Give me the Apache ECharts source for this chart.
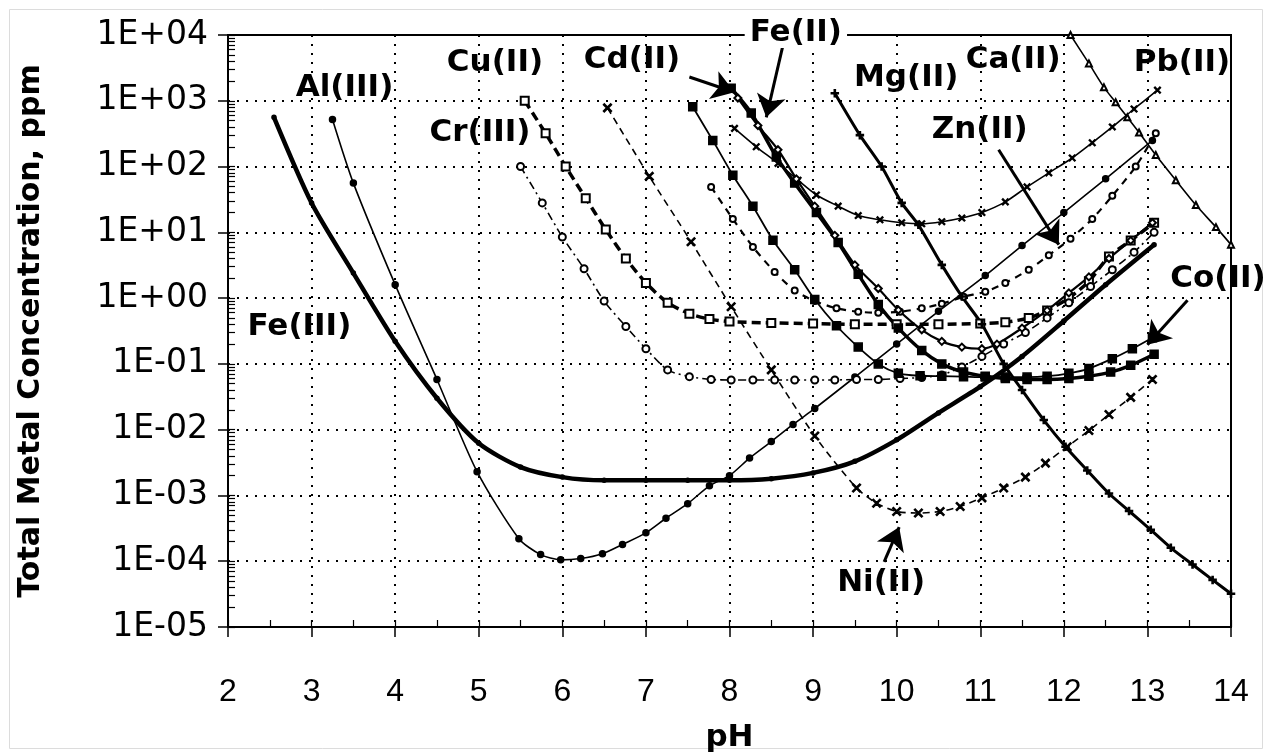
<!DOCTYPE html>
<html>
<head>
<meta charset="utf-8">
<title>Total Metal Concentration vs pH</title>
<script src="https://cdn.jsdelivr.net/npm/echarts@6/dist/echarts.min.js"></script>
<style>
html, body { margin: 0; padding: 0; background: #fff; }
#chart { width: 1267px; height: 752px; }
</style>
</head>
<body>
<div id="chart"></div>
<script>
// solubility curves, pH vs total metal concentration (ppm)
var feIIIPh = [2.55, 3.0, 3.5, 4.0, 4.5, 5.0, 5.5, 6.0, 6.5, 7.0, 7.5, 8.0, 8.5, 9.0, 9.5, 10.0, 10.5, 11.0, 11.5, 12.0, 12.5, 13.08]
var feIIIConc = [560, 28, 2.4, 0.22, 0.03, 0.0062, 0.0027, 0.0019, 0.0017, 0.0017, 0.0017, 0.0017, 0.0018, 0.0022, 0.0033, 0.007, 0.018, 0.045, 0.13, 0.45, 1.6, 6.5]

var alPh = [3.25, 3.5, 4.0, 4.5, 4.98, 5.48, 5.74, 5.98, 6.22, 6.48, 6.72, 7.0, 7.24, 7.5, 7.76, 8.0, 8.24, 8.5, 8.76, 9.02, 9.5, 10.0, 10.5, 11.06, 11.5, 12.0, 12.5, 13.06]
var alConc = [520, 56, 1.6, 0.058, 0.0023, 2.2e-4, 1.26e-4, 1.05e-4, 1.1e-4, 1.3e-4, 1.8e-4, 2.7e-4, 4.5e-4, 7.5e-4, 1.4e-3, 2.0e-3, 3.7e-3, 6.6e-3, 0.012, 0.021, 0.063, 0.2, 0.63, 2.2, 6.3, 20, 65, 250]

var cuPh = [5.55, 5.8, 6.04, 6.28, 6.52, 6.76, 7.0, 7.26, 7.52, 7.76, 8.0, 8.5, 9.0, 9.5, 10.0, 10.5, 11.0, 11.3, 11.58, 11.8, 12.06, 12.3, 12.54, 12.8, 13.08]
var cuConc = [1000, 320, 100, 33, 11, 4, 1.7, 0.85, 0.58, 0.48, 0.44, 0.42, 0.41, 0.4, 0.4, 0.4, 0.41, 0.43, 0.5, 0.65, 1.0, 1.8, 4.3, 7.5, 14]

var crPh = [5.5, 5.76, 6.0, 6.26, 6.5, 6.76, 7.0, 7.26, 7.52, 7.78, 8.02, 8.28, 8.54, 8.78, 9.02, 9.26, 9.52, 9.78, 10.04, 10.3, 10.54, 10.78, 11.02, 11.28, 11.54, 11.8, 12.06, 12.32, 12.58, 12.84, 13.08]
var crConc = [100, 28, 8.5, 2.8, 0.9, 0.37, 0.17, 0.081, 0.064, 0.058, 0.057, 0.057, 0.057, 0.057, 0.057, 0.057, 0.058, 0.058, 0.06, 0.062, 0.068, 0.09, 0.13, 0.2, 0.3, 0.5, 0.85, 1.5, 2.7, 5, 10]

var znPh = [7.78, 8.04, 8.28, 8.54, 8.78, 9.02, 9.28, 9.54, 9.78, 10.04, 10.3, 10.54, 10.8, 11.06, 11.3, 11.58, 11.82, 12.08, 12.34, 12.58, 12.86, 13.1]
var znConc = [49, 16, 6, 2.5, 1.3, 0.9, 0.7, 0.62, 0.6, 0.62, 0.7, 0.82, 1.05, 1.25, 1.7, 2.7, 4.5, 8, 16, 36, 100, 320]

var niPh = [6.54, 7.04, 7.54, 8.02, 8.5, 9.02, 9.52, 9.76, 10.0, 10.26, 10.52, 10.76, 11.02, 11.28, 11.54, 11.78, 12.04, 12.3, 12.54, 12.8, 13.06]
var niConc = [780, 71, 7.2, 0.74, 0.081, 0.008, 1.3e-3, 7.6e-4, 5.7e-4, 5.4e-4, 5.7e-4, 6.8e-4, 9.2e-4, 1.3e-3, 1.9e-3, 3.1e-3, 5.5e-3, 9.7e-3, 0.017, 0.031, 0.058]

var pbPh = [8.06, 8.32, 8.58, 8.82, 9.04, 9.3, 9.54, 9.8, 10.06, 10.3, 10.54, 10.78, 11.02, 11.3, 11.56, 11.82, 12.1, 12.34, 12.58, 12.84, 13.12]
var pbConc = [380, 200, 112, 62, 37, 25, 18, 15.5, 14, 13.5, 14.5, 16.5, 20, 29, 49, 80, 135, 230, 400, 750, 1450]

var caPh = [12.08, 12.3, 12.48, 12.62, 12.76, 12.9, 13.1, 13.34, 13.58, 13.82, 14.0]
var caConc = [10000, 3700, 1600, 950, 560, 330, 150, 62, 26, 12, 6.5]

var mgPh = [9.26, 9.56, 9.82, 10.06, 10.26, 10.54, 10.78, 11.02, 11.28, 11.5, 11.76, 12.02, 12.28, 12.54, 12.78, 13.04, 13.28, 13.54, 13.78, 14.0]
var mgConc = [1300, 300, 100, 28, 13, 3.2, 1.06, 0.4, 0.1, 0.04, 0.014, 0.0055, 0.0024, 0.00107, 5.8e-4, 3e-4, 1.6e-4, 8.9e-5, 5.2e-5, 3.2e-5]

var cdPh = [8.02, 8.26, 8.56, 8.78, 9.04, 9.3, 9.54, 9.78, 10.02, 10.3, 10.54, 10.8, 11.06, 11.3, 11.56, 11.8, 12.06, 12.3, 12.56, 12.8, 13.08]
var cdConc = [1550, 650, 140, 56, 20, 7, 2.3, 0.8, 0.35, 0.16, 0.1, 0.075, 0.065, 0.06, 0.058, 0.058, 0.06, 0.065, 0.075, 0.095, 0.14]

var coPh = [7.56, 7.8, 8.04, 8.28, 8.52, 8.78, 9.02, 9.28, 9.54, 9.78, 10.02, 10.28, 10.54, 10.8, 11.06, 11.3, 11.56, 11.8, 12.06, 12.3, 12.58, 12.82, 13.06]
var coConc = [810, 250, 74, 25, 7.6, 2.7, 0.95, 0.38, 0.18, 0.1, 0.072, 0.066, 0.065, 0.064, 0.063, 0.063, 0.063, 0.065, 0.072, 0.085, 0.12, 0.17, 0.25]

var feIIPh = [8.1, 8.34, 8.58, 8.8, 9.02, 9.26, 9.5, 9.78, 10.02, 10.3, 10.54, 10.78, 11.02, 11.2, 11.5, 11.8, 12.06, 12.3, 12.54, 12.8, 13.06]
var feIIConc = [1100, 420, 180, 65, 25, 9, 3.2, 1.4, 0.66, 0.33, 0.22, 0.18, 0.17, 0.2, 0.35, 0.65, 1.2, 2.1, 4, 7.5, 14]

// curve labels (placed in data coordinates)
var labelNames = ['Al(III)', 'Cu(II)', 'Cr(III)', 'Fe(III)', 'Cd(II)', 'Fe(II)', 'Mg(II)', 'Ca(II)', 'Pb(II)', 'Zn(II)', 'Co(II)', 'Ni(II)']
var labelPh = [3.4, 5.2, 5.02, 2.86, 6.84, 8.8, 10.12, 11.4, 13.42, 11.0, 13.85, 9.82]
var labelConc = [1550, 3700, 320, 0.36, 4100, 10700, 2200, 4100, 3700, 360, 1.95, 4.6e-5]

// arrows from label to curve
var arrowFromPh = [7.52, 8.64, 11.22, 13.48, 9.85]
var arrowFromConc = [2300, 7000, 180, 0.93, 9.8e-5]
var arrowToPh = [8.06, 8.44, 11.94, 13.0, 10.03]
var arrowToConc = [1350, 560, 6.5, 0.195, 3.3e-4]

var CROSS = 'path://M0,1L1,0L5,4L9,0L10,1L6,5L10,9L9,10L5,6L1,10L0,9L4,5Z'
var PLUS = 'path://M4.2,0H5.8V4.2H10V5.8H5.8V10H4.2V5.8H0V4.2H4.2Z'

function pairs(xs, ys) {
  return xs.map(function (x, i) { return [x, ys[i]] })
}

function sci(v) {
  var e = Math.round(Math.log10(v))
  var a = Math.abs(e)
  return '1E' + (e < 0 ? '-' : '+') + (a < 10 ? '0' : '') + a
}

// minor ticks: log pattern on y, halves on x
var yMinor = []
for (var e = -5; e < 4; e++) {
  for (var m = 1; m <= 9; m++) yMinor.push(m * Math.pow(10, e))
}
yMinor.push(1e4)
var xHalf = []
for (var h = 2; h <= 14; h += 0.5) xHalf.push(h)

function curve(name, xs, ys, opt) {
  return {
    name: name,
    type: 'line',
    data: pairs(xs, ys),
    smooth: 0.25,
    symbol: opt.symbol || 'none',
    symbolSize: opt.size || 7,
    showSymbol: !!opt.symbol,
    lineStyle: { color: '#000', width: opt.width || 1.5, type: opt.type || 'solid' },
    itemStyle: { color: '#000', borderColor: '#000', borderWidth: 1.5 },
    z: opt.z || 3
  }
}

var chart = echarts.init(document.getElementById('chart'))

var labelData = labelNames.map(function (n, i) {
  var item = { value: [labelPh[i], labelConc[i]], name: n }
  if (n === 'Fe(II)') item.label = { backgroundColor: '#fff', padding: [0, 5] }
  return item
})

var arrowData = arrowFromPh.map(function (x, i) {
  return [{ coord: [x, arrowFromConc[i]] }, { coord: [arrowToPh[i], arrowToConc[i]] }]
})

var option = {
  animation: false,
  backgroundColor: '#fff',
  graphic: [{
    type: 'rect',
    left: 7, top: 7,
    shape: { width: 1253, height: 739 },
    style: { fill: 'none', stroke: '#dcdcdc', lineWidth: 1 },
    silent: true
  }],
  grid: {
    left: 228, right: 36, top: 35, bottom: 125,
    outerBoundsMode: 'none',
    show: true, borderColor: '#000', borderWidth: 2
  },
  xAxis: [{
    type: 'value', min: 2, max: 14, interval: 1,
    name: 'pH', nameLocation: 'middle', nameGap: 95,
    nameTextStyle: { fontFamily: 'DejaVu Sans', fontWeight: 'bold', fontSize: 31, color: '#000' },
    axisLine: { lineStyle: { color: '#000', width: 2 } },
    axisTick: { length: 10, lineStyle: { color: '#000', width: 1.5 } },
    axisLabel: { margin: 49, fontFamily: 'Liberation Sans', fontSize: 32, color: '#000' },
    splitLine: { lineStyle: { color: '#000', width: 2, type: [2, 7] } }
  }, {
    type: 'value', min: 2, max: 14, position: 'bottom',
    axisLine: { show: false },
    axisLabel: { show: false },
    splitLine: { show: false },
    axisTick: { show: true, inside: true, length: 7, customValues: xHalf, lineStyle: { color: '#000', width: 1.2 } }
  }],
  yAxis: [{
    type: 'log', logBase: 10, min: 1e-5, max: 1e4, splitNumber: 9,
    name: 'Total Metal Concentration, ppm', nameLocation: 'middle', nameGap: 182,
    nameTextStyle: { fontFamily: 'DejaVu Sans', fontWeight: 'bold', fontSize: 30, color: '#000' },
    axisLine: { lineStyle: { color: '#000', width: 2 } },
    axisTick: { length: 10, lineStyle: { color: '#000', width: 1.5 } },
    axisLabel: { margin: 20, fontFamily: 'DejaVu Sans', fontSize: 33, color: '#000', formatter: sci },
    splitLine: { lineStyle: { color: '#000', width: 2, type: [2, 7] } }
  }, {
    type: 'log', logBase: 10, min: 1e-5, max: 1e4, position: 'left',
    axisLine: { show: false },
    axisLabel: { show: false },
    splitLine: { show: false },
    axisTick: { show: true, inside: true, length: 7, customValues: yMinor, lineStyle: { color: '#000', width: 1.2 } }
  }],
  series: [
    curve('Fe(III)', feIIIPh, feIIIConc, { width: 4.5, symbol: 'circle', size: 4 }),
    curve('Al(III)', alPh, alConc, { width: 1.6, symbol: 'circle', size: 6 }),
    curve('Cu(II)', cuPh, cuConc, { width: 3.5, type: [9, 5], symbol: 'emptyRect', size: 8 }),
    curve('Cr(III)', crPh, crConc, { width: 1.6, type: [8, 4, 2, 4], symbol: 'emptyCircle', size: 7 }),
    curve('Zn(II)', znPh, znConc, { width: 2.2, type: [7, 6], symbol: 'emptyCircle', size: 6 }),
    curve('Ni(II)', niPh, niConc, { width: 1.6, type: [7, 5], symbol: CROSS, size: 8 }),
    curve('Pb(II)', pbPh, pbConc, { width: 1.6, symbol: CROSS, size: 6 }),
    curve('Ca(II)', caPh, caConc, { width: 1.6, symbol: 'emptyTriangle', size: 6 }),
    curve('Mg(II)', mgPh, mgConc, { width: 3, symbol: PLUS, size: 7 }),
    curve('Cd(II)', cdPh, cdConc, { width: 3.5, symbol: 'rect', size: 8 }),
    curve('Co(II)', coPh, coConc, { width: 1.8, symbol: 'rect', size: 8 }),
    curve('Fe(II)', feIIPh, feIIConc, { width: 2.2, symbol: 'emptyDiamond', size: 7 }),
    {
      name: 'labels',
      type: 'scatter',
      data: labelData,
      symbolSize: 1,
      clip: false,
      z: 10,
      silent: true,
      emphasis: { disabled: true },
      itemStyle: { color: 'transparent' },
      label: {
        show: true, position: [0, 0], align: 'center', verticalAlign: 'middle',
        formatter: function (p) { return p.name },
        fontFamily: 'DejaVu Sans', fontWeight: 'bold', fontSize: 31,
        color: '#000', opacity: 1, textBorderWidth: 0, textBorderColor: 'transparent'
      },
      markLine: {
        silent: true,
        symbol: ['none', 'arrow'],
        symbolSize: 22,
        label: { show: false },
        lineStyle: { color: '#000', width: 3, type: 'solid' },
        data: arrowData
      }
    }
  ]
}

chart.setOption(option)
</script>
</body>
</html>
